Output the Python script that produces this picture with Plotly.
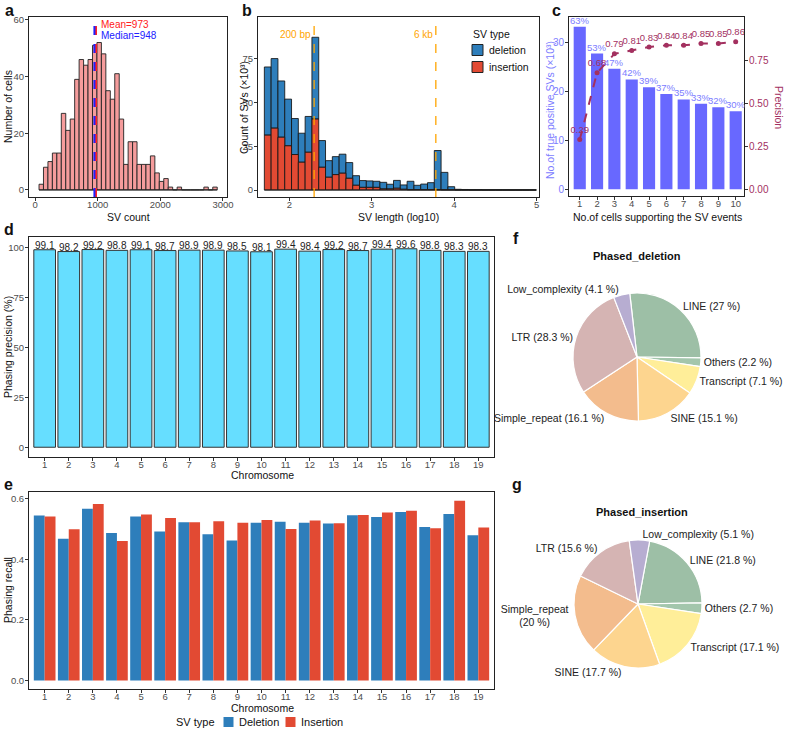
import plotly.graph_objects as go

FONT = "Liberation Sans, Arial, Helvetica, sans-serif"
W, H = 790, 730

# ---------------- data ----------------
# (a) SV count per cell histogram
A_BIN_START = 64
A_BIN_WIDTH = 71.1
A_COUNTS = [2, 8, 10, 13, 13, 27, 21, 25, 39, 46, 44, 46, 51, 52, 48, 35, 32, 41, 25, 9,
            17, 17, 9, 9, 9, 12, 6, 3, 4, 1, 0, 1, 0, 0, 0, 0, 0, 1, 0, 1]
A_MEAN = 973
A_MEDIAN = 948

# (b) SV length histogram (x10^3), stacked
B_BIN_START = 1.697
B_BIN_WIDTH = 0.0825
B_INS = [31.4, 35.4, 30.2, 25.3, 20.3, 15.9, 21.6, 40.6, 13.0, 7.3, 8.8, 9.6, 6.7, 2.7, 1.5,
         1.5, 1.5, 0.6, 0.6, 1.0, 0.4, 0.2, 0.2, 0.2, 0.2, 0.2, 0.1, 0.1, 0, 0,
         0, 0, 0, 0, 0, 0, 0, 0, 0, 0]
B_DEL = [39.0, 39.8, 32.2, 26.7, 20.6, 16.6, 20.5, 46.8, 15.3, 9.5, 10.3, 10.9, 9.0, 5.5, 3.9,
         3.7, 3.5, 3.8, 2.7, 4.5, 2.5, 4.8, 2.5, 3.2, 4.0, 22.4, 10.0, 1.8, 0.4, 0.3,
         0.2, 0.2, 0.1, 0.1, 0.1, 0.1, 0.05, 0.05, 0.05, 0.05]
B_CUTOFFS = [2.301, 3.778]
B_CUTOFF_LABELS = ["200 bp", "6 kb"]
B_TYPES = ["deletion", "insertion"]

# (c) true positives vs number of supporting cells
C_CELLS = [1, 2, 3, 4, 5, 6, 7, 8, 9, 10]
C_TP = [33.3, 27.8, 24.7, 22.5, 20.9, 19.5, 18.4, 17.5, 16.8, 16.0]
C_PCT = ["63%", "53%", "47%", "42%", "39%", "37%", "35%", "33%", "32%", "30%"]
C_PREC = [0.29, 0.68, 0.79, 0.81, 0.83, 0.84, 0.84, 0.85, 0.85, 0.86]

# (d) phasing precision, (e) phasing recall
CHROMS = list(range(1, 20))
D_PREC = [99.1, 98.2, 99.2, 98.8, 99.1, 98.7, 98.9, 98.9, 98.5, 98.1,
          99.4, 98.4, 99.2, 98.7, 99.4, 99.6, 98.8, 98.3, 98.3]
E_DEL = [0.545, 0.468, 0.568, 0.487, 0.542, 0.492, 0.523, 0.483, 0.463, 0.521,
         0.525, 0.521, 0.519, 0.546, 0.540, 0.557, 0.507, 0.550, 0.480]
E_INS = [0.542, 0.500, 0.583, 0.461, 0.549, 0.537, 0.523, 0.526, 0.521, 0.530,
         0.501, 0.529, 0.520, 0.547, 0.555, 0.561, 0.503, 0.594, 0.506]
E_TYPES = ["Deletion", "Insertion"]

# (f), (g) repeat annotation pies
PIE_LABELS = ["LINE", "Others", "Transcript", "SINE", "Simple_repeat", "LTR", "Low_complexity"]
F_VALUES = [27, 2.2, 7.1, 15.1, 16.1, 28.3, 4.1]
G_VALUES = [21.8, 2.7, 17.1, 17.7, 20, 15.6, 5.1]
G_WRAP = ["Simple_repeat"]

# ---------------- styles ----------------
PIE_COLORS = ["#9DBFA6", "#A3C6AC", "#FFEE99", "#FDD58F", "#F3BC8D", "#D5B4B3", "#B7ADD1"]
BLUE = "#2E7EBB"
RED = "#E24A33"
C_BAR = "#6868FF"
C_TXT = "#7C7CFF"
C_LINE = "#A3305F"
TICK = dict(family=FONT, size=9.5, color="#4D4D4D")
TITLE_SIZE = 10.5


def px(x):
    return x / W


def py(y):
    return 1 - y / H


def axis(domain, anchor, standoff=-4, **kw):
    d = dict(domain=domain, anchor=anchor, showline=True, mirror=True, linecolor="#222222",
             linewidth=1, ticks="outside", ticklen=3, tickwidth=1, tickcolor="#333333",
             tickfont=TICK, showgrid=False, zeroline=False, fixedrange=True,
             ticklabelstandoff=standoff)
    d.update(kw)
    return d


fig = go.Figure()

# ---- a ----
a_centers = [A_BIN_START + A_BIN_WIDTH * (i + 0.5) for i in range(len(A_COUNTS))]
fig.add_trace(go.Scatter(x=[A_BIN_START, A_BIN_START + A_BIN_WIDTH * len(A_COUNTS)], y=[0, 0],
                         mode="lines", line=dict(color="#222", width=1), showlegend=False,
                         xaxis="x", yaxis="y", hoverinfo="skip"))
fig.add_trace(go.Bar(x=a_centers, y=A_COUNTS, width=A_BIN_WIDTH,
                     marker=dict(color="#F59C9C", line=dict(color="#222", width=0.9)),
                     showlegend=False, xaxis="x", yaxis="y"))

# ---- b ----
b_centers = [B_BIN_START + B_BIN_WIDTH * (i + 0.5) for i in range(len(B_INS))]
fig.add_trace(go.Scatter(x=[B_BIN_START, B_BIN_START + B_BIN_WIDTH * len(B_INS)], y=[0, 0],
                         mode="lines", line=dict(color="#222", width=1), showlegend=False,
                         xaxis="x2", yaxis="y2", hoverinfo="skip"))
fig.add_trace(go.Bar(x=b_centers, y=B_DEL, base=B_INS, width=B_BIN_WIDTH, name=B_TYPES[0],
                     marker=dict(color=BLUE, line=dict(color="rgba(20,20,20,0.85)", width=1)),
                     xaxis="x2", yaxis="y2", showlegend=False))
fig.add_trace(go.Bar(x=b_centers, y=B_INS, width=B_BIN_WIDTH, name=B_TYPES[1],
                     marker=dict(color=RED, line=dict(color="rgba(20,20,20,0.85)", width=1)),
                     xaxis="x2", yaxis="y2", showlegend=False))

# ---- c ----
fig.add_trace(go.Bar(x=C_CELLS, y=C_TP, width=0.7, marker=dict(color=C_BAR, line=dict(width=0)),
                     showlegend=False, xaxis="x3", yaxis="y3"))
fig.add_trace(go.Scatter(x=C_CELLS, y=C_PREC, mode="lines+markers+text",
                         text=[f"{v:.2f}" for v in C_PREC], textposition="top center",
                         textfont=dict(family=FONT, size=9.5, color=C_LINE),
                         line=dict(color=C_LINE, width=2, dash="dash"),
                         marker=dict(color=C_LINE, size=5), cliponaxis=False,
                         showlegend=False, xaxis="x3", yaxis="y7"))

# ---- d ----
fig.add_trace(go.Bar(x=CHROMS, y=D_PREC, width=0.9,
                     marker=dict(color="#66DEFF", line=dict(color="#333", width=1)),
                     showlegend=False, xaxis="x4", yaxis="y4"))

# ---- e ----
fig.add_trace(go.Bar(x=CHROMS, y=E_DEL, width=0.45, offset=-0.45, name=E_TYPES[0],
                     marker=dict(color=BLUE, line=dict(width=0)),
                     xaxis="x5", yaxis="y5", showlegend=False))
fig.add_trace(go.Bar(x=CHROMS, y=E_INS, width=0.45, offset=0, name=E_TYPES[1],
                     marker=dict(color=RED, line=dict(width=0)),
                     xaxis="x5", yaxis="y5", showlegend=False))

# ---- f, g pies ----
f_text = [f"{l} ({v:g} %)" for l, v in zip(PIE_LABELS, F_VALUES)]
g_text = [f"{l}{'<br>' if l in G_WRAP else ' '}({v:g} %)" for l, v in zip(PIE_LABELS, G_VALUES)]
pie_common = dict(sort=False, direction="clockwise", textposition="outside", textinfo="text",
                  marker=dict(colors=PIE_COLORS, line=dict(color="white", width=1.2)),
                  outsidetextfont=dict(family=FONT, size=10.5, color="#222"),
                  showlegend=False, hoverinfo="skip")
fig.add_trace(go.Pie(labels=PIE_LABELS, values=F_VALUES, text=f_text, rotation=-6.5,
                     domain=dict(x=[px(637 - 64), px(637 + 64)], y=[py(357 + 64), py(357 - 64)]),
                     **pie_common))
fig.add_trace(go.Pie(labels=PIE_LABELS, values=G_VALUES, text=g_text, rotation=10.5,
                     domain=dict(x=[px(638 - 64), px(638 + 64)], y=[py(604 + 64), py(604 - 64)]),
                     **pie_common))

# ---------------- annotations ----------------
ann = []
shapes = []


def label(text, x, y, size=TITLE_SIZE, color="#111", angle=0, bold=False, xanchor="center"):
    ann.append(dict(text=f"<b>{text}</b>" if bold else text, x=px(x), y=py(y), xref="paper",
                    yref="paper", showarrow=False, textangle=angle, xanchor=xanchor,
                    yanchor="middle", font=dict(family=FONT, size=size, color=color)))


def key(x0, y0, size, color, outline):
    shapes.append(dict(type="rect", xref="paper", yref="paper", x0=px(x0), x1=px(x0 + size),
                       y0=py(y0 + size), y1=py(y0), fillcolor=color,
                       line=dict(color="#222" if outline else color, width=1 if outline else 0)))


# bar value labels (data coordinates)
for x, v, t in zip(C_CELLS, C_TP, C_PCT):
    ann.append(dict(text=t, x=x, y=v, xref="x3", yref="y3", showarrow=False, yanchor="bottom",
                    yshift=-1, font=dict(family=FONT, size=9.5, color=C_TXT)))
for x, v in zip(CHROMS, D_PREC):
    ann.append(dict(text=f"{v:.1f}", x=x, y=v, xref="x4", yref="y4", showarrow=False,
                    yanchor="bottom", yshift=-3, font=dict(family=FONT, size=10, color="#222")))

# panel letters
for t, x, y in [("a", 9, 11), ("b", 247, 11), ("c", 556, 11), ("d", 9, 229), ("e", 8, 484),
                ("f", 516, 239), ("g", 517, 484)]:
    label(t, x, y, size=16, bold=True)

# axis titles
label("SV count", 128, 217)
label("Number of cells", 8, 107, angle=-90)
label("SV length (log10)", 398, 217)
label("Count of SVs (×10³)", 244, 107, angle=-90)
label("No.of cells supporting the SV events", 657, 217)
label("No.of true positive SVs (×10³)", 550, 110, angle=-90, color=C_TXT)
label("Precision", 779, 107, angle=90, color=C_LINE)
label("Chromosome", 262, 475)
label("Phasing precision (%)", 8, 347, angle=-90)
label("Chromosome", 262, 708)
label("Phasing recall", 8, 590, angle=-90)
label("Phased_deletion", 637, 256, size=11, bold=True)
label("Phased_insertion", 642, 512, size=11, bold=True)

# legend of b (inside the panel)
label("SV type", 471, 34, size=10.5, xanchor="left")
for i, (t, c) in enumerate(zip(B_TYPES, [BLUE, RED])):
    key(472, 44.5 + 17 * i, 11, c, True)
    label(t, 487, 50 + 17 * i, size=10.5, xanchor="left")

# legend of e (below the panel)
label("SV type", 174, 722, size=11, xanchor="left")
for i, (t, c) in enumerate(zip(E_TYPES, [BLUE, RED])):
    key(223.5 + 62 * i, 717, 10, c, False)
    label(t, 237 + 62 * i, 722, size=11, xanchor="left")

# mean / median
ann.append(dict(text=f"Mean={A_MEAN}", x=A_MEAN, y=58.5, xref="x", yref="y", showarrow=False,
                xanchor="left", xshift=3, font=dict(family=FONT, size=10, color="#FF2020")))
ann.append(dict(text=f"Median={A_MEDIAN}", x=A_MEAN, y=54.3, xref="x", yref="y", showarrow=False,
                xanchor="left", xshift=3, font=dict(family=FONT, size=10, color="#2020FF")))
# cutoff labels
for v, t in zip(B_CUTOFFS, B_CUTOFF_LABELS):
    ann.append(dict(text=t, x=v, y=0.945, xref="x2", yref="y2 domain", showarrow=False,
                    xanchor="right", xshift=-1, font=dict(family=FONT, size=10, color="#FFA500")))

shapes.append(dict(type="line", xref="x", yref="y domain", x0=A_MEAN, x1=A_MEAN, y0=0, y1=0.96,
                   line=dict(color="#FF2020", width=2, dash="dash")))
shapes.append(dict(type="line", xref="x", yref="y domain", x0=A_MEDIAN, x1=A_MEDIAN, y0=0, y1=0.96,
                   line=dict(color="#2020FF", width=2, dash="dash")))
for v in B_CUTOFFS:
    shapes.append(dict(type="line", xref="x2", yref="y2 domain", x0=v, x1=v, y0=0, y1=1,
                       line=dict(color="#FFA500", width=1.3, dash="dash")))

fig.update_layout(
    width=W, height=H, margin=dict(l=0, r=0, t=0, b=0, autoexpand=False),
    paper_bgcolor="white", plot_bgcolor="white", barmode="overlay", showlegend=False,
    font=dict(family=FONT, size=11, color="#111"),
    annotations=ann, shapes=shapes,
    xaxis=axis([px(29), px(227)], "y", range=[-96, 3064], tickvals=[0, 1000, 2000, 3000]),
    yaxis=axis([py(197), py(17)], "x", standoff=-1, range=[-2.5, 61], tickvals=[0, 20, 40, 60]),
    xaxis2=axis([px(258), px(539)], "y2", range=[1.62, 5.03], tickvals=[2, 3, 4, 5]),
    yaxis2=axis([py(197), py(17)], "x2", standoff=-1, range=[-4, 99], tickvals=[0, 25, 50, 75]),
    xaxis3=axis([px(569), px(744)], "y3", range=[0.38, 10.48], tickvals=C_CELLS),
    yaxis3=axis([py(196), py(17)], "x3", standoff=-1, range=[-1.38, 35.3], tickvals=[0, 10, 20, 30],
                tickfont=dict(family=FONT, size=10, color=C_TXT)),
    yaxis7=axis([py(196), py(17)], "x3", standoff=-1, overlaying="y3", side="right",
                range=[-0.039, 1.005], tickvals=[0, 0.25, 0.5, 0.75], tickformat=".2f", mirror=False,
                tickfont=dict(family=FONT, size=10, color=C_LINE)),
    xaxis4=axis([px(29), px(494)], "y4", range=[0.35, 19.65], tickvals=CHROMS),
    yaxis4=axis([py(457), py(237)], "x4", standoff=-1, range=[-4.9, 105.5],
                tickvals=[0, 25, 50, 75, 100]),
    xaxis5=axis([px(29), px(494)], "y5", range=[0.35, 19.65], tickvals=CHROMS),
    yaxis5=axis([py(689), py(492)], "x5", standoff=-1, range=[-0.0285, 0.623],
                tickvals=[0, 0.2, 0.4, 0.6], tickformat=".1f"),
)

# the default page body has an 8px margin; remove it so the figure sits at the window origin
fig.write_html("out.html", config={"displayModeBar": False},
               post_script="document.body.style.margin='0px';")
